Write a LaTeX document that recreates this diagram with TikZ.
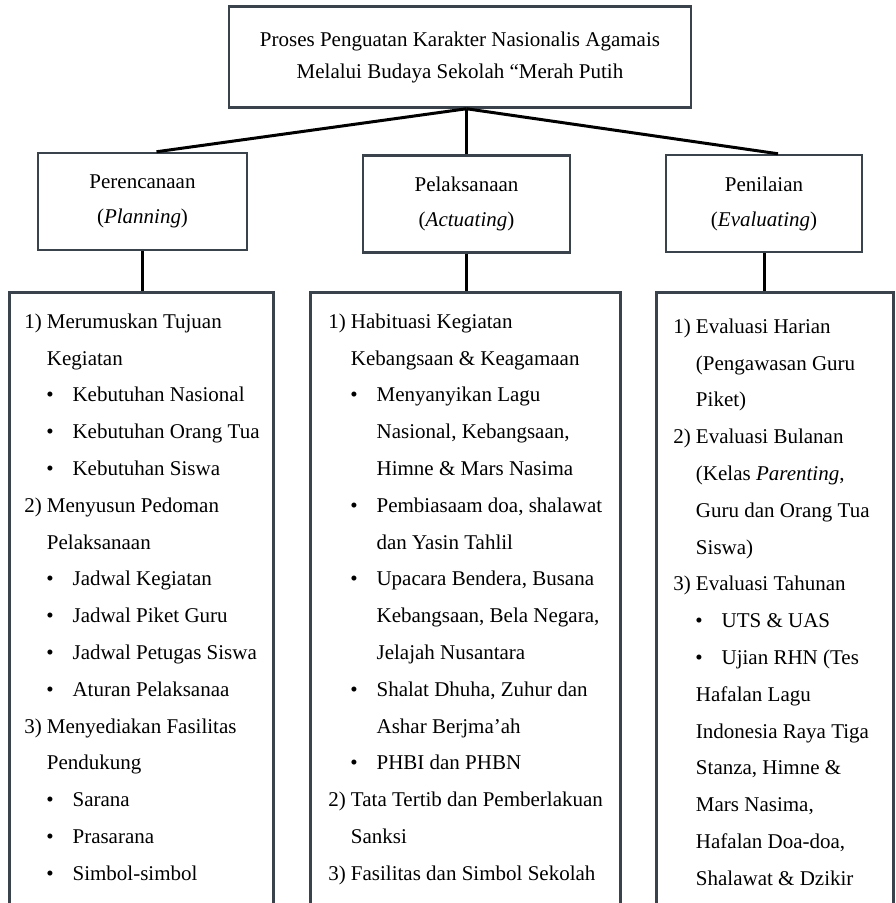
\documentclass[tikz,border=0pt]{standalone}
\usepackage{fontspec}
\setmainfont{Liberation Serif}
\definecolor{boxline}{RGB}{58,66,76}
\newcommand{\ncon}{\hphantom{1) }}
\newcommand{\bul}{\hspace*{22pt}\textbullet\hspace*{19pt}}
\newcommand{\bcon}{\hphantom{\bul}}
\newcommand{\lst}[4]{\hspace*{#1}\parbox[t][640pt][t]{#2}{\rule{0pt}{#3}#4}}

\begin{document}
\begin{tikzpicture}[x=1pt, y=-1pt, line width=2.5pt,
    box/.style={draw=boxline, fill=white, inner sep=0pt, align=center, font=\fontsize{21}{35}\selectfont},
    listbox/.style={draw=boxline, inner sep=0pt, anchor=north west, font=\fontsize{21}{36.8}\selectfont},
    link/.style={line width=3pt, black}]
  \useasboundingbox (0,0) rectangle (896,903);

  \node[box, minimum width=462, minimum height=101, font=\fontsize{21}{32}\selectfont] (top) at (460,57)
    {Proses Penguatan Karakter Nasionalis Agamais\\Melalui Budaya Sekolah “Merah Putih};

  \foreach \nm/\x/\y/\w/\a/\b in {plan/142.5/201.5/209/Perencanaan/Planning,
      act/466.5/204/207/Pelaksanaan/Actuating, eval/764/203.5/196/Penilaian/Evaluating} {
    \node[box, minimum width=\w, minimum height=97] (\nm) at (\x,\y) {\a\\(\textit{\b})};
  }

  \node[listbox] (plist) at (8,291) {\lst{15pt}{249pt}{36pt}{%
    1) Merumuskan Tujuan\\
    \ncon Kegiatan\\
    \bul Kebutuhan Nasional\\
    \bul Kebutuhan Orang Tua\\
    \bul Kebutuhan Siswa\\
    2) Menyusun Pedoman\\
    \ncon Pelaksanaan\\
    \bul Jadwal Kegiatan\\
    \bul Jadwal Piket Guru\\
    \bul Jadwal Petugas Siswa\\
    \bul Aturan Pelaksanaa\\
    3) Menyediakan Fasilitas\\
    \ncon Pendukung\\
    \bul Sarana\\
    \bul Prasarana\\
    \bul Simbol-simbol}};

  \node[listbox] (alist) at (309,291) {\lst{18pt}{292pt}{36pt}{%
    1) Habituasi Kegiatan\\
    \ncon Kebangsaan \& Keagamaan\\
    \bul Menyanyikan Lagu\\
    \bcon Nasional, Kebangsaan,\\
    \bcon Himne \& Mars Nasima\\
    \bul Pembiasaam doa, shalawat\\
    \bcon dan Yasin Tahlil\\
    \bul Upacara Bendera, Busana\\
    \bcon Kebangsaan, Bela Negara,\\
    \bcon Jelajah Nusantara\\
    \bul Shalat Dhuha, Zuhur dan\\
    \bcon Ashar Berjma’ah\\
    \bul PHBI dan PHBN\\
    2) Tata Tertib dan Pemberlakuan\\
    \ncon Sanksi\\
    3) Fasilitas dan Simbol Sekolah}};

  \node[listbox] (elist) at (655,291) {\lst{17pt}{220pt}{41pt}{%
    1) Evaluasi Harian\\
    \ncon(Pengawasan Guru\\
    \ncon Piket)\\
    2) Evaluasi Bulanan\\
    \ncon(Kelas \textit{Parenting},\\
    \ncon Guru dan Orang Tua\\
    \ncon Siswa)\\
    3) Evaluasi Tahunan\\
    \bul UTS \& UAS\\
    \bul Ujian RHN (Tes\\
    \ncon Hafalan Lagu\\
    \ncon Indonesia Raya Tiga\\
    \ncon Stanza, Himne \&\\
    \ncon Mars Nasima,\\
    \ncon Hafalan Doa-doa,\\
    \ncon Shalawat \& Dzikir}};

  \coordinate (hub) at (top.south -| act.north);
  \draw[link] (hub) -- ([xshift=14pt]plan.north);
  \draw[link] (hub) -- (act.north);
  \draw[link] (hub) -- ([xshift=14pt]eval.north);
  \foreach \a/\b in {plan/plist, act/alist, eval/elist}
    \draw[link] (\a.south) -- (\a.south |- \b.north);
\end{tikzpicture}
\end{document}
